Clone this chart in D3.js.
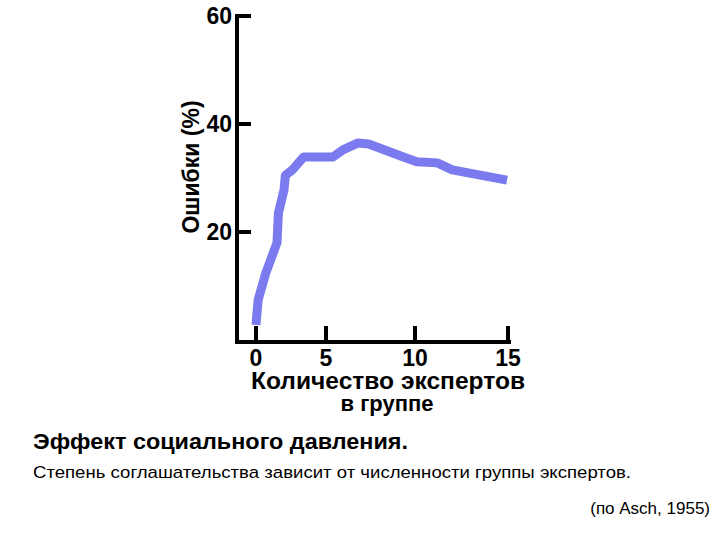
<!DOCTYPE html>
<html><head><meta charset="utf-8">
<script src="https://cdn.jsdelivr.net/npm/d3@7.9.0/dist/d3.min.js"></script>
<style>body{margin:0;background:#fff}text{font-family:"Liberation Sans",Arial,sans-serif}</style>
</head><body><svg id="chart" width="720" height="540"></svg>
<script>
// group size vs. errors (%)
const groupSize = [0, 0.15, 0.7, 1.5, 1.6, 2.0, 2.1, 2.6, 3.4, 5.4, 5.95, 6.8, 7.4, 9.5, 10.1, 11.2, 12.0, 14.95];
const errors = [2.8, 7.4, 12.4, 18, 23.5, 27.8, 30.5, 31.5, 33.9, 33.9, 35.2, 36.5, 36.3, 33.7, 33, 32.8, 31.5, 29.6];
const xTicks = [0, 5, 10, 15];
const yTicks = [20, 40, 60];

const svg = d3.select('#chart');
// the original axis is hand-drawn, tick spacing is uneven
const x = d3.scaleLinear().domain(xTicks).range([256, 326, 415, 508]);
const y = d3.scaleLinear().domain([0, 60]).range([340, 16]);

svg.append('line').attr('x1', 237).attr('x2', 237).attr('y1', 14).attr('y2', 344)
    .attr('stroke', '#000').attr('stroke-width', 4);
svg.append('line').attr('x1', 235).attr('x2', 511).attr('y1', 342).attr('y2', 342)
    .attr('stroke', '#000').attr('stroke-width', 4);

yTicks.forEach(t => {
    svg.append('line').attr('x1', 237).attr('x2', 251).attr('y1', y(t)).attr('y2', y(t))
        .attr('stroke', '#000').attr('stroke-width', 4);
    svg.append('text').attr('x', 232).attr('y', y(t) + 8).attr('text-anchor', 'end')
        .attr('font-size', 23).attr('font-weight', 'bold').text(t);
});
xTicks.forEach(t => {
    svg.append('line').attr('x1', x(t)).attr('x2', x(t)).attr('y1', 342).attr('y2', 326)
        .attr('stroke', '#000').attr('stroke-width', 4);
    svg.append('text').attr('x', x(t)).attr('y', 366).attr('text-anchor', 'middle')
        .attr('font-size', 23).attr('font-weight', 'bold').text(t);
});

svg.append('path')
    .attr('d', d3.line().x((d, i) => x(d)).y((d, i) => y(errors[i]))(groupSize))
    .attr('fill', 'none').attr('stroke', '#7b7bef').attr('stroke-width', 9)
    .attr('stroke-linejoin', 'round');

svg.append('text').attr('transform', 'translate(199,167) rotate(-90)').attr('text-anchor', 'middle')
    .attr('font-size', 23).attr('font-weight', 'bold').text('Ошибки (%)');
svg.append('text').attr('x', 388).attr('y', 389).attr('text-anchor', 'middle')
    .attr('font-size', 23).attr('font-weight', 'bold')
    .attr('textLength', 274).attr('lengthAdjust', 'spacingAndGlyphs').text('Количество экспертов');
svg.append('text').attr('x', 387).attr('y', 411).attr('text-anchor', 'middle')
    .attr('font-size', 22).attr('font-weight', 'bold').text('в группе');

svg.append('text').attr('x', 33).attr('y', 449).attr('font-size', 22).attr('font-weight', 'bold')
    .attr('textLength', 375).attr('lengthAdjust', 'spacingAndGlyphs').text('Эффект социального давления.');
svg.append('text').attr('x', 33).attr('y', 478).attr('font-size', 17)
    .attr('textLength', 598).attr('lengthAdjust', 'spacingAndGlyphs')
    .text('Степень соглашательства зависит от численности группы экспертов.');
svg.append('text').attr('x', 710).attr('y', 514).attr('text-anchor', 'end').attr('font-size', 17)
    .text('(по Asch, 1955)');
</script></body></html>
